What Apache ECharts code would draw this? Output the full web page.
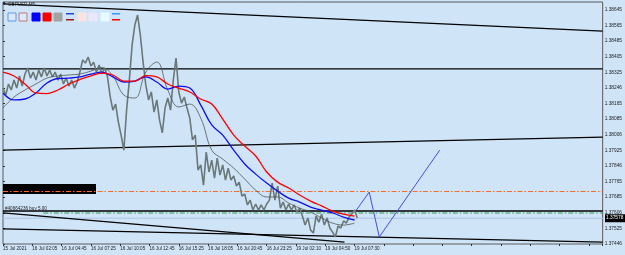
<!DOCTYPE html>
<html>
<head>
<meta charset="utf-8">
<script src="https://cdn.jsdelivr.net/npm/echarts@6/dist/echarts.min.js"></script>
<style>
  html, body { margin: 0; padding: 0; background: #d0e4f8; }
  #chart { width: 625px; height: 255px; }
</style>
</head>
<body>
<div id="chart"></div>
<script>
// GBPUSD M5 - sampled every 3 bars
var priceStep = 3;
var priceClose = [
  1.38245, 1.38209, 1.38266, 1.38235, 1.38286, 1.38245, 1.38307, 1.38255, 1.38317, 1.38348,
  1.38296, 1.38327, 1.38286, 1.38337, 1.38302, 1.38348, 1.38307, 1.38337, 1.38302, 1.38327,
  1.38286, 1.38317, 1.38266, 1.38296, 1.38255, 1.38286, 1.38245, 1.38276, 1.38327, 1.38389,
  1.38373, 1.38404, 1.38358, 1.38378, 1.38327, 1.38363, 1.38317, 1.38348, 1.38307, 1.38204,
  1.38132, 1.38163, 1.38071, 1.38004, 1.37927, 1.38132, 1.38286, 1.38465, 1.38568, 1.38619,
  1.38517, 1.38378, 1.38260, 1.38184, 1.38225, 1.38122, 1.38184, 1.38081, 1.38015, 1.38143,
  1.38194, 1.38132, 1.38286, 1.38399, 1.38225, 1.38168, 1.38199, 1.38143, 1.38091, 1.37979,
  1.38004, 1.37825, 1.37851, 1.37748, 1.37917, 1.37815, 1.37876, 1.37784, 1.37886, 1.37799,
  1.37851, 1.37774, 1.37835, 1.37774, 1.37794, 1.37743, 1.37763, 1.37692, 1.37702, 1.37646,
  1.37671, 1.37620, 1.37651, 1.37620, 1.37646, 1.37620, 1.37651, 1.37671, 1.37758, 1.37671,
  1.37743, 1.37630, 1.37661, 1.37620, 1.37651, 1.37620, 1.37646, 1.37610, 1.37630, 1.37589,
  1.37543, 1.37579, 1.37517, 1.37502, 1.37589, 1.37558, 1.37599, 1.37543, 1.37579, 1.37528,
  1.37507, 1.37482, 1.37538, 1.37528, 1.37564, 1.37553, 1.37584, 1.37599, 1.37620, 1.37579
];

// moving averages - sampled every 12 bars
var maStep = 12;
var maBlue = [
  1.38220, 1.38184, 1.38189, 1.38220, 1.38271, 1.38294, 1.38296, 1.38302, 1.38317, 1.38327,
  1.38302, 1.38276, 1.38281, 1.38302, 1.38276, 1.38240, 1.38255, 1.38245, 1.38158, 1.38056,
  1.38004, 1.37927, 1.37856, 1.37804, 1.37758, 1.37717, 1.37681, 1.37661, 1.37635, 1.37620,
  1.37605, 1.37584, 1.37569
];
var maRed = [
  1.38327, 1.38307, 1.38266, 1.38220, 1.38217, 1.38235, 1.38266, 1.38289, 1.38307, 1.38322,
  1.38312, 1.38281, 1.38281, 1.38309, 1.38302, 1.38266, 1.38245, 1.38225, 1.38189, 1.38163,
  1.38086, 1.38004, 1.37948, 1.37897, 1.37815, 1.37763, 1.37733, 1.37697, 1.37666, 1.37641,
  1.37615, 1.37599, 1.37589
];
var maGrey = [
  1.38143, 1.38199, 1.38235, 1.38266, 1.38296, 1.38307, 1.38312, 1.38317, 1.38332, 1.38350,
  1.38307, 1.38209, 1.38194, 1.38327, 1.38378, 1.38235, 1.38148, 1.38163, 1.38091, 1.37927,
  1.37881, 1.37835, 1.37779, 1.37722, 1.37687, 1.37687, 1.37656, 1.37630, 1.37610, 1.37579,
  1.37553, 1.37543, 1.37553
];

// drawn objects: [bar, price] end points
var trendTop = [[0, 1.38676], [655, 1.38537]];
var trendMid = [[0, 1.38343], [655, 1.38343]];
var trendLow = [[0, 1.37927], [655, 1.37994]];
var levelLine = [[0, 1.37615], [655, 1.37615]];
var supportA = [[0, 1.37523], [655, 1.37456]];
var supportB = [[0, 1.37605], [373, 1.37456]];
var forecast = [[386, 1.37620], [400, 1.37712], [411, 1.37482], [477, 1.37927]];
var targetLevel = 1.37715;
var orderLevel = 1.37605;
var bidPrice = 1.37578;

var timeLabels = ['15 Jul 2021', '16 Jul 02:05', '16 Jul 04:45', '16 Jul 07:25', '16 Jul 10:05',
  '16 Jul 12:45', '16 Jul 15:25', '16 Jul 18:05', '16 Jul 20:45', '16 Jul 23:25',
  '19 Jul 02:10', '19 Jul 04:50', '19 Jul 07:30'];
var priceLabels = ['1.37446', '1.37525', '1.37606', '1.37685', '1.37765', '1.37846', '1.37925',
  '1.38006', '1.38085', '1.38165', '1.38246', '1.38325', '1.38405', '1.38485', '1.38565', '1.38645'];

var yMin = 1.37446, yMax = 1.38686, yStep = 0.0008;

function pairs(arr, step) {
  return arr.map(function (v, i) { return [i * step, v]; });
}
function seg(name, data, color, width, type) {
  return {
    name: name, type: 'line', data: data, symbol: 'none', silent: true,
    lineStyle: { color: color, width: width, type: type || 'solid' }, z: 3
  };
}

var chart = echarts.init(document.getElementById('chart'));
var option = {
  animation: false,
  backgroundColor: '#d0e4f8',
  grid: { left: 3, right: 21, top: 2, bottom: 11, show: true, borderColor: '#5a5a5a', borderWidth: 1, backgroundColor: '#d0e4f8' },
  xAxis: {
    type: 'value', min: 0, max: 655, interval: 32,
    axisLine: { show: false }, splitLine: { show: false },
    axisTick: { show: true, length: 2, lineStyle: { color: '#333' } },
    axisLabel: {
      fontSize: 4.6, color: '#222', fontFamily: 'Liberation Sans', margin: 2, align: 'left',
      formatter: function (v) { var k = v / 32; return (k % 1 === 0 && timeLabels[k]) ? timeLabels[k] : ''; }
    }
  },
  yAxis: {
    type: 'value', position: 'right', min: yMin, max: yMax, interval: yStep,
    axisLine: { show: false }, splitLine: { show: false },
    axisTick: { show: true, length: 2, lineStyle: { color: '#333' } },
    axisLabel: {
      fontSize: 4.8, color: '#222', fontFamily: 'Liberation Sans', margin: 2,
      formatter: function (v) {
        var k = (v - yMin) / yStep, r = Math.round(k);
        return Math.abs(k - r) < 0.01 && priceLabels[r] ? priceLabels[r] : '';
      }
    }
  },
  series: [
    seg('bid', [[0, bidPrice], [655, bidPrice]], '#a9c6e6', 1),
    seg('target', [[0, targetLevel], [655, targetLevel]], '#ff6a2a', 1.1, [5, 2, 1.5, 2]),
    seg('order', [[44, orderLevel], [655, orderLevel]], '#2f9a50', 1.1, [5, 2, 1.5, 2]),
    seg('trendTop', trendTop, '#000', 1.3),
    seg('trendMid', trendMid, '#000', 1.3),
    seg('trendLow', trendLow, '#000', 1.3),
    seg('level', levelLine, '#000', 1.3),
    seg('supportA', supportA, '#000', 1.3),
    seg('supportB', supportB, '#000', 1.3),
    { name: 'GBPUSD', type: 'line', data: pairs(priceClose, priceStep), symbol: 'none', silent: true,
      lineStyle: { color: '#6a7878', width: 1.6 }, z: 4 },
    { name: 'MA grey', type: 'line', data: pairs(maGrey, maStep), symbol: 'none', smooth: 0.4, silent: true,
      lineStyle: { color: '#4f5555', width: 0.8 }, z: 5 },
    { name: 'MA blue', type: 'line', data: pairs(maBlue, maStep), symbol: 'none', smooth: 0.4, silent: true,
      lineStyle: { color: '#1010ee', width: 1.3 }, z: 6 },
    { name: 'MA red', type: 'line', data: pairs(maRed, maStep), symbol: 'none', smooth: 0.4, silent: true,
      lineStyle: { color: '#ff0000', width: 1.3 }, z: 6 },
    seg('forecast', forecast, '#3a3ae8', 0.9)
  ]
};
chart.setOption(option);

// toolbar icons, title and chart objects (screen furniture)
var icons = [
  { x: 8, fill: '#dbe9fb', stroke: '#5a9be0' },
  { x: 19, fill: '#dbe9fb', stroke: '#c07a7a' },
  { x: 32, fill: '#0000ff', stroke: '#0000ff' },
  { x: 43, fill: '#ff0000', stroke: '#ff0000' },
  { x: 54, fill: '#a3a3a3', stroke: '#a3a3a3' },
  { x: 78, fill: '#fde2e2', stroke: '#fde2e2' },
  { x: 89, fill: '#ebe6fa', stroke: '#ebe6fa' },
  { x: 101, fill: '#e6fbfd', stroke: '#e6fbfd' }
];
var gfx = icons.map(function (ic) {
  return { type: 'rect', shape: { x: ic.x, y: 13, width: 8, height: 8 }, style: { fill: ic.fill, stroke: ic.stroke, lineWidth: 1 }, z: 100 };
});
[66, 112].forEach(function (x, i) {
  gfx.push({ type: 'rect', shape: { x: x, y: 13, width: 8, height: 1.5 }, style: { fill: i ? '#3399ff' : '#2244dd' }, z: 100 });
  gfx.push({ type: 'rect', shape: { x: x, y: 19, width: 8, height: 1.5 }, style: { fill: i ? '#ff0000' : '#a01818' }, z: 100 });
});
gfx.push({ type: 'polygon', shape: { points: [[3, 3], [6, 3], [4.5, 5]] }, style: { fill: '#222' }, z: 100 });
gfx.push({ type: 'text', left: 8, top: 2, style: { text: 'GBPUSD,M5', fontSize: 4.6, fill: '#222', fontFamily: 'Liberation Sans' }, z: 100 });
gfx.push({ type: 'rect', shape: { x: 3, y: 184, width: 93, height: 10 }, style: { fill: '#000' }, z: 1 });
gfx.push({ type: 'text', left: 5, top: 206, style: { text: '#40664236 buy 5.00', fontSize: 4.6, fill: '#222', fontFamily: 'Liberation Sans' }, z: 100 });
var by = chart.convertToPixel({ yAxisIndex: 0 }, bidPrice);
gfx.push({ type: 'rect', shape: { x: 605, y: by - 4, width: 20, height: 8 }, style: { fill: '#000' }, z: 100 });
gfx.push({ type: 'text', left: 606, top: by - 3, style: { text: '1.37578', fontSize: 4.8, fill: '#fff', fontFamily: 'Liberation Sans' }, z: 101 });
chart.setOption({ graphic: gfx });
</script>
</body>
</html>
